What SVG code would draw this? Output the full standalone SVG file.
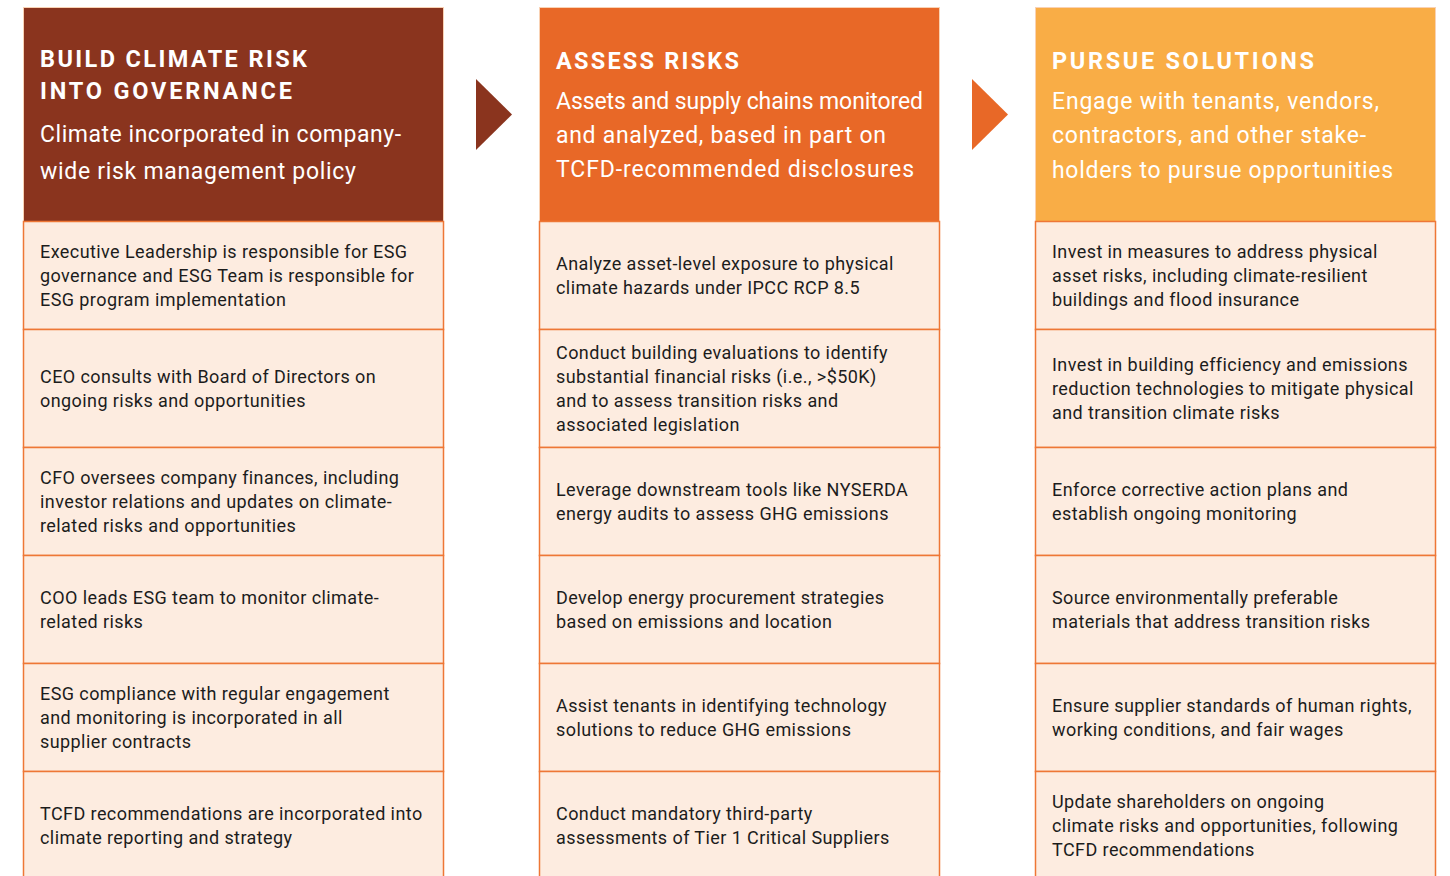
<svg xmlns="http://www.w3.org/2000/svg" width="1450" height="876" viewBox="0 0 1450 876">
<style>
.hd{font-family:Roboto,"Liberation Sans",Arial,sans-serif;font-weight:700;font-size:23.5px;fill:#fff}
.sub{font-family:Roboto,"Liberation Sans",Arial,sans-serif;font-size:23px;fill:#fff}
.bd{font-family:Roboto,"Liberation Sans",Arial,sans-serif;font-size:18px;letter-spacing:0.42px;fill:#1c1c1c}
.cell{fill:#FDECE0;stroke:#EE7736;stroke-width:1.5}
.hbox{stroke:#F9D2B4;stroke-width:1}
</style>
<rect width="1450" height="876" fill="#fff"/>
<g id="connectors">
<polygon points="476,79 512,114.5 476,150" fill="#8A341E"/>
<polygon points="972,79 1008,114.5 972,150" fill="#E86827"/>
</g>
<g id="col1">
<rect class="hbox" x="23.5" y="7.5" width="420" height="214" fill="#8A341E"/>
<text class="hd" x="40" y="67" textLength="267" lengthAdjust="spacing">BUILD CLIMATE RISK</text>
<text class="hd" x="40" y="99" textLength="252" lengthAdjust="spacing">INTO GOVERNANCE</text>
<text class="sub" x="40" y="142" textLength="361" lengthAdjust="spacing">Climate incorporated in company-</text>
<text class="sub" x="40" y="179" textLength="316" lengthAdjust="spacing">wide risk management policy</text>
</g>
<g id="col1-r1"><rect class="cell" x="23.5" y="221.5" width="420" height="108"/>
<text class="bd" x="40" y="258">Executive Leadership is responsible for ESG</text>
<text class="bd" x="40" y="282">governance and ESG Team is responsible for</text>
<text class="bd" x="40" y="306">ESG program implementation</text></g>
<g id="col1-r2"><rect class="cell" x="23.5" y="329.5" width="420" height="118"/>
<text class="bd" x="40" y="383">CEO consults with Board of Directors on</text>
<text class="bd" x="40" y="407">ongoing risks and opportunities</text></g>
<g id="col1-r3"><rect class="cell" x="23.5" y="447.5" width="420" height="108"/>
<text class="bd" x="40" y="484">CFO oversees company finances, including</text>
<text class="bd" x="40" y="508">investor relations and updates on climate-</text>
<text class="bd" x="40" y="532">related risks and opportunities</text></g>
<g id="col1-r4"><rect class="cell" x="23.5" y="555.5" width="420" height="108"/>
<text class="bd" x="40" y="604">COO leads ESG team to monitor climate-</text>
<text class="bd" x="40" y="628">related risks</text></g>
<g id="col1-r5"><rect class="cell" x="23.5" y="663.5" width="420" height="108"/>
<text class="bd" x="40" y="700">ESG compliance with regular engagement</text>
<text class="bd" x="40" y="724">and monitoring is incorporated in all</text>
<text class="bd" x="40" y="748">supplier contracts</text></g>
<g id="col1-r6"><rect class="cell" x="23.5" y="771.5" width="420" height="110"/>
<text class="bd" x="40" y="820">TCFD recommendations are incorporated into</text>
<text class="bd" x="40" y="844">climate reporting and strategy</text></g>

<g id="col2">
<rect class="hbox" x="539.5" y="7.5" width="400" height="214" fill="#E86827"/>
<text class="hd" x="556" y="69" textLength="183" lengthAdjust="spacing">ASSESS RISKS</text>
<text class="sub" x="556" y="109" textLength="367" lengthAdjust="spacing">Assets and supply chains monitored</text>
<text class="sub" x="556" y="143" textLength="330" lengthAdjust="spacing">and analyzed, based in part on</text>
<text class="sub" x="556" y="177" textLength="358" lengthAdjust="spacing">TCFD-recommended disclosures</text>
</g>
<g id="col2-r1"><rect class="cell" x="539.5" y="221.5" width="400" height="108"/>
<text class="bd" x="556" y="270">Analyze asset-level exposure to physical</text>
<text class="bd" x="556" y="294">climate hazards under IPCC RCP 8.5</text></g>
<g id="col2-r2"><rect class="cell" x="539.5" y="329.5" width="400" height="118"/>
<text class="bd" x="556" y="359">Conduct building evaluations to identify</text>
<text class="bd" x="556" y="383">substantial financial risks (i.e., &gt;$50K)</text>
<text class="bd" x="556" y="407">and to assess transition risks and</text>
<text class="bd" x="556" y="431">associated legislation</text></g>
<g id="col2-r3"><rect class="cell" x="539.5" y="447.5" width="400" height="108"/>
<text class="bd" x="556" y="496">Leverage downstream tools like NYSERDA</text>
<text class="bd" x="556" y="520">energy audits to assess GHG emissions</text></g>
<g id="col2-r4"><rect class="cell" x="539.5" y="555.5" width="400" height="108"/>
<text class="bd" x="556" y="604">Develop energy procurement strategies</text>
<text class="bd" x="556" y="628">based on emissions and location</text></g>
<g id="col2-r5"><rect class="cell" x="539.5" y="663.5" width="400" height="108"/>
<text class="bd" x="556" y="712">Assist tenants in identifying technology</text>
<text class="bd" x="556" y="736">solutions to reduce GHG emissions</text></g>
<g id="col2-r6"><rect class="cell" x="539.5" y="771.5" width="400" height="110"/>
<text class="bd" x="556" y="820">Conduct mandatory third-party</text>
<text class="bd" x="556" y="844">assessments of Tier 1 Critical Suppliers</text></g>

<g id="col3">
<rect class="hbox" x="1035.5" y="7.5" width="400" height="214" fill="#F9AD46"/>
<text class="hd" x="1052" y="69" textLength="262" lengthAdjust="spacing">PURSUE SOLUTIONS</text>
<text class="sub" x="1052" y="109" textLength="327" lengthAdjust="spacing">Engage with tenants, vendors,</text>
<text class="sub" x="1052" y="143" textLength="314" lengthAdjust="spacing">contractors, and other stake-</text>
<text class="sub" x="1052" y="178" textLength="341" lengthAdjust="spacing">holders to pursue opportunities</text>
</g>
<g id="col3-r1"><rect class="cell" x="1035.5" y="221.5" width="400" height="108"/>
<text class="bd" x="1052" y="258">Invest in measures to address physical</text>
<text class="bd" x="1052" y="282">asset risks, including climate-resilient</text>
<text class="bd" x="1052" y="306">buildings and flood insurance</text></g>
<g id="col3-r2"><rect class="cell" x="1035.5" y="329.5" width="400" height="118"/>
<text class="bd" x="1052" y="371">Invest in building efficiency and emissions</text>
<text class="bd" x="1052" y="395">reduction technologies to mitigate physical</text>
<text class="bd" x="1052" y="419">and transition climate risks</text></g>
<g id="col3-r3"><rect class="cell" x="1035.5" y="447.5" width="400" height="108"/>
<text class="bd" x="1052" y="496">Enforce corrective action plans and</text>
<text class="bd" x="1052" y="520">establish ongoing monitoring</text></g>
<g id="col3-r4"><rect class="cell" x="1035.5" y="555.5" width="400" height="108"/>
<text class="bd" x="1052" y="604">Source environmentally preferable</text>
<text class="bd" x="1052" y="628">materials that address transition risks</text></g>
<g id="col3-r5"><rect class="cell" x="1035.5" y="663.5" width="400" height="108"/>
<text class="bd" x="1052" y="712">Ensure supplier standards of human rights,</text>
<text class="bd" x="1052" y="736">working conditions, and fair wages</text></g>
<g id="col3-r6"><rect class="cell" x="1035.5" y="771.5" width="400" height="110"/>
<text class="bd" x="1052" y="808">Update shareholders on ongoing</text>
<text class="bd" x="1052" y="832">climate risks and opportunities, following</text>
<text class="bd" x="1052" y="856">TCFD recommendations</text></g>
</svg>
